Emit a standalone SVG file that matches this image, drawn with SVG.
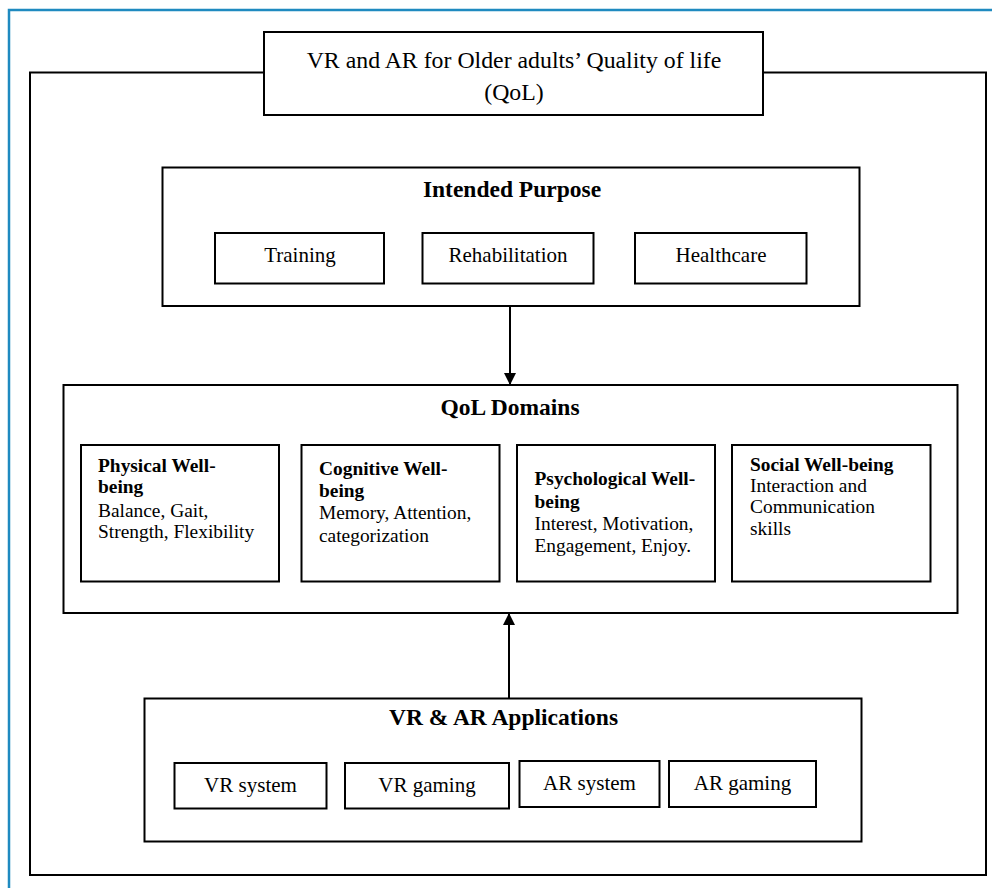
<svg xmlns="http://www.w3.org/2000/svg" width="992" height="888" viewBox="0 0 992 888">
<defs>
<style>
.box{fill:#fff;stroke:#000;stroke-width:2}
.frame{fill:none;stroke:#000;stroke-width:2}
.t{font-family:"Liberation Serif","Times New Roman",serif;fill:#000}
.h{font-size:23.5px;font-weight:bold;text-anchor:middle}
.lbl{font-size:21px;text-anchor:middle}
.ttl{font-size:23.8px;text-anchor:middle}
.d{font-size:19.4px}
.b{font-weight:bold}
.conn{stroke:#000;stroke-width:2;fill:none}
</style>
<marker id="arr" markerWidth="12" markerHeight="12" viewBox="0 0 12 12" refX="12" refY="6" orient="auto" markerUnits="userSpaceOnUse">
<path d="M0,0 L12,6 L0,12 Z" fill="#000"/>
</marker>
</defs>
<rect width="992" height="888" fill="#fff"/>
<g id="page-border" fill="none" stroke="#1f8ac0" stroke-width="2.5">
<path d="M9,888 L9,10 L992,10"/>
</g>
<g id="outer-frame">
<rect class="frame" x="30" y="72.5" width="956" height="802.5"/>
</g>
<g id="title">
<rect class="box" x="264" y="32" width="499" height="83"/>
<text class="t ttl" x="514" y="68">VR and AR for Older adults’ Quality of life</text>
<text class="t ttl" x="514" y="100">(QoL)</text>
</g>
<g id="intended-purpose">
<rect class="box" x="162.5" y="167.5" width="697" height="138.5"/>
<text class="t h" x="512" y="197">Intended Purpose</text>
<g id="training"><rect class="box" x="215" y="233" width="169" height="50.5"/><text class="t lbl" x="300" y="262">Training</text></g>
<g id="rehabilitation"><rect class="box" x="422.5" y="233" width="171" height="50.5"/><text class="t lbl" x="508" y="262">Rehabilitation</text></g>
<g id="healthcare"><rect class="box" x="635" y="233" width="171.5" height="50.5"/><text class="t lbl" x="721" y="262">Healthcare</text></g>
</g>
<g id="qol-domains">
<rect class="box" x="63.5" y="385" width="894" height="228"/>
<text class="t h" x="510" y="415">QoL Domains</text>
<g id="physical">
<rect class="box" x="81" y="445" width="198" height="136.5"/>
<text class="t d b" x="98" y="471.5">Physical Well-</text>
<text class="t d b" x="98" y="493">being</text>
<text class="t d" x="98" y="516.5">Balance, Gait,</text>
<text class="t d" x="98" y="538">Strength, Flexibility</text>
</g>
<g id="cognitive">
<rect class="box" x="301.5" y="445" width="198" height="136.5"/>
<text class="t d b" x="319" y="475">Cognitive Well-</text>
<text class="t d b" x="319" y="497">being</text>
<text class="t d" x="319" y="519">Memory, Attention,</text>
<text class="t d" x="319" y="541.5">categorization</text>
</g>
<g id="psychological">
<rect class="box" x="517" y="445" width="198" height="136.5"/>
<text class="t d b" x="534.5" y="485">Psychological Well-</text>
<text class="t d b" x="534.5" y="507.5">being</text>
<text class="t d" x="534.5" y="530">Interest, Motivation,</text>
<text class="t d" x="534.5" y="551.5">Engagement, Enjoy.</text>
</g>
<g id="social">
<rect class="box" x="732" y="445" width="198.5" height="136.5"/>
<text class="t d b" x="750" y="470.5">Social Well-being</text>
<text class="t d" x="750" y="491.5">Interaction and</text>
<text class="t d" x="750" y="513">Communication</text>
<text class="t d" x="750" y="535">skills</text>
</g>
</g>
<g id="applications">
<rect class="box" x="144.5" y="698.5" width="717" height="143"/>
<text class="t h" x="503.5" y="724.5">VR &amp; AR Applications</text>
<g id="vr-system"><rect class="box" x="174.5" y="763" width="152" height="45.5"/><text class="t lbl" x="250.5" y="792">VR system</text></g>
<g id="vr-gaming"><rect class="box" x="345" y="763" width="164" height="45.5"/><text class="t lbl" x="427" y="792">VR gaming</text></g>
<g id="ar-system"><rect class="box" x="519.5" y="761" width="140" height="46"/><text class="t lbl" x="589.5" y="790">AR system</text></g>
<g id="ar-gaming"><rect class="box" x="669" y="761" width="147" height="46"/><text class="t lbl" x="742.5" y="790">AR gaming</text></g>
</g>
<g id="connectors">
<line class="conn" x1="510" y1="306" x2="510" y2="385" marker-end="url(#arr)"/>
<line class="conn" x1="509" y1="698.5" x2="509" y2="613" marker-end="url(#arr)"/>
</g>
</svg>
